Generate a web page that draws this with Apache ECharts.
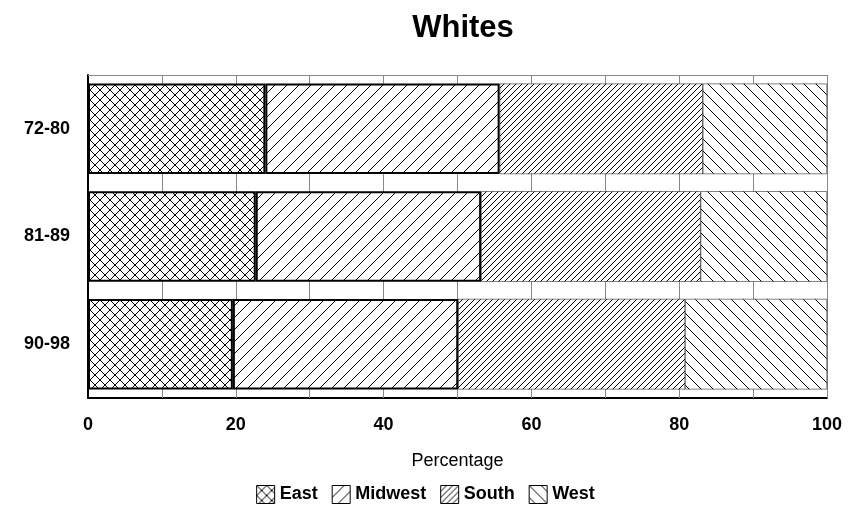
<!DOCTYPE html>
<html>
<head>
<meta charset="utf-8">
<script src="https://cdn.jsdelivr.net/npm/echarts@6/dist/echarts.min.js"></script>
<style>html,body{margin:0;padding:0;background:#fff}#c{width:851px;height:513px}</style>
</head>
<body>
<div id="c"></div>
<script>
var periods = ['90-98', '81-89', '72-80'];
var regions = ['East', 'Midwest', 'South', 'West'];
var east = [19.6, 22.7, 24.0];
var midwest = [30.5, 30.5, 31.7];
var south = [30.7, 29.7, 27.5];
var west = [19.2, 17.1, 16.8];

// 填充图案
function pattern(kind) {
    var s = kind === 'south' ? 6 : (kind === 'east' ? 10 : 12);
    var cv = document.createElement('canvas');
    cv.width = s; cv.height = s;
    var ctx = cv.getContext('2d');
    ctx.fillStyle = '#fff';
    ctx.fillRect(0, 0, s, s);
    ctx.strokeStyle = '#000';
    ctx.lineWidth = 1;
    function up() { ctx.beginPath(); ctx.moveTo(-1, s + 1); ctx.lineTo(s + 1, -1); ctx.stroke(); }
    function down() { ctx.beginPath(); ctx.moveTo(-1, -1); ctx.lineTo(s + 1, s + 1); ctx.stroke(); }
    if (kind === 'east') { up(); down(); }
    else if (kind === 'west') { down(); }
    else { up(); }
    return {image: cv, repeat: 'repeat'};
}

var data = [east, midwest, south, west];
var keys = ['east', 'midwest', 'south', 'west'];
var series = regions.map(function (name, i) {
    return {
        name: name, type: 'bar', stack: 'a', data: data[i], barWidth: '84%', z: 5,
        itemStyle: {color: pattern(keys[i]), borderColor: '#000', borderWidth: i < 2 ? 2 : 0.5},
        emphasis: {disabled: true}
    };
});

var chart = echarts.init(document.getElementById('c'));
chart.setOption({
    animation: false,
    title: {text: 'Whites', left: 458, top: 8, textAlign: 'center',
        textStyle: {fontFamily: 'Liberation Sans', fontSize: 31, fontWeight: 'bold', color: '#000'}},
    grid: {left: 88, right: 24, top: 75, bottom: 115},
    legend: {bottom: 4, left: 'center', itemWidth: 18, itemHeight: 18, itemGap: 14, icon: 'rect',
        data: regions,
        textStyle: {fontFamily: 'Liberation Sans', fontSize: 18, fontWeight: 'bold', color: '#000'},
        itemStyle: {borderColor: '#000', borderWidth: 1}},
    xAxis: {type: 'value', min: 0, max: 100, interval: 20,
        name: 'Percentage', nameLocation: 'middle', nameGap: 54,
        nameTextStyle: {fontFamily: 'Liberation Sans', fontSize: 18, color: '#000'},
        axisLine: {show: true, lineStyle: {color: '#000', width: 2}},
        axisTick: {show: false},
        axisLabel: {fontFamily: 'Liberation Sans', fontSize: 18, fontWeight: 'bold', color: '#000', margin: 18},
        splitLine: {show: false}},
    yAxis: {type: 'category', data: periods,
        axisLine: {show: true, lineStyle: {color: '#000', width: 2}},
        axisTick: {show: false},
        axisLabel: {fontFamily: 'Liberation Sans', fontSize: 18, fontWeight: 'bold', color: '#000', margin: 18}},
    series: series.concat([{
        type: 'line', data: [], silent: true, z: 1,
        markLine: {symbol: 'none', silent: true, label: {show: false},
            lineStyle: {color: '#888', type: 'solid', width: 1},
            data: [10, 20, 30, 40, 50, 60, 70, 80, 90, 100].map(function (v) { return {xAxis: v}; })
                .concat([[{x: 88, y: 75}, {x: 827, y: 75}]])}
    }])
});
</script>
</body>
</html>
